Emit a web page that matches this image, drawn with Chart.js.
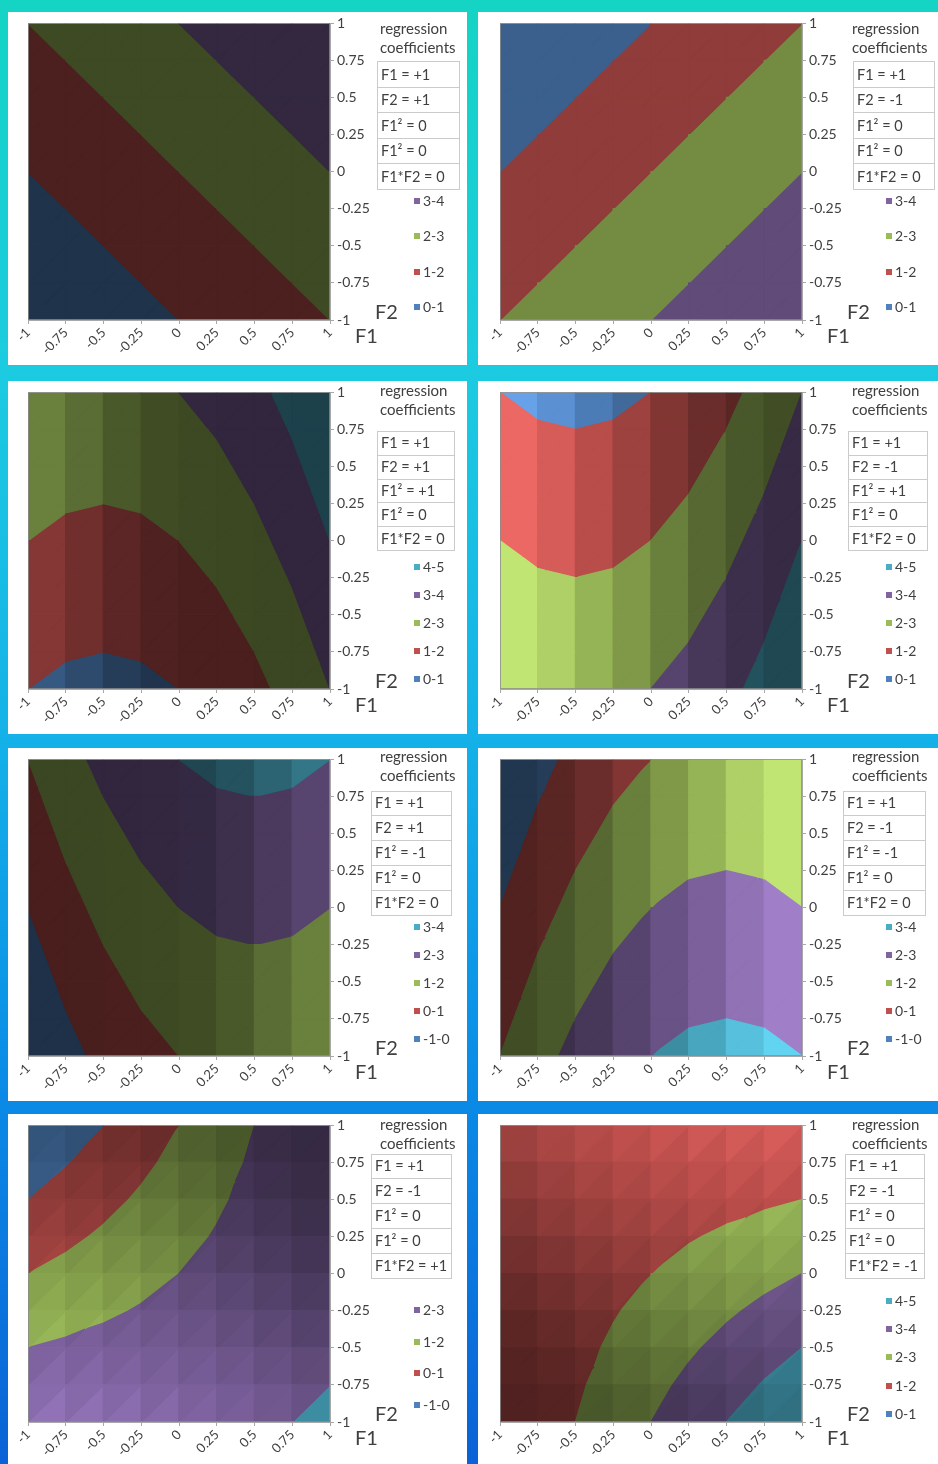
<!DOCTYPE html>
<html>
<head>
<meta charset="utf-8">
<script src="https://cdn.jsdelivr.net/npm/chart.js@4.4.0/dist/chart.umd.min.js"></script>
<style>
html, body { margin: 0; padding: 0; }
body {
	width: 938px; height: 1464px; overflow: hidden; position: relative;
	background: linear-gradient(180deg, #14d4c4 0%, #1ccbe0 25%, #14b2e8 50%, #0a8ae6 75%, #0a62d6 100%);
	font-family: Lato, "Open Sans", sans-serif; color: #404040;
}
.panel { position: absolute; background: #fff; height: 353px; overflow: hidden; }
.panel canvas { position: absolute; left: 0; top: 0; }
.ttl { position: absolute; font-size: 15px; line-height: 19px; white-space: nowrap; }
.coef { position: absolute; border-collapse: collapse; font-size: 14.5px; }
.coef td { border: 1px solid #cbcbcb; padding: 0 3px; white-space: nowrap; line-height: 16px; }
.axt { position: absolute; font-size: 20px; line-height: 20px; }
.leg { position: absolute; font-size: 14px; line-height: 16px; white-space: nowrap; }
.leg i { display: inline-block; width: 6px; height: 6px; margin-right: 3px; vertical-align: 2px; }
</style>
</head>
<body>
<script>
// grid positions (F1 across, F2 from top row down)
var F1_VALUES = [-1, -0.75, -0.5, -0.25, 0, 0.25, 0.5, 0.75, 1];
var F2_VALUES = [1, 0.75, 0.5, 0.25, 0, -0.25, -0.5, -0.75, -1];

// response values, one row per F2 value
var GRID_1 = [
	[2, 2.25, 2.5, 2.75, 3, 3.25, 3.5, 3.75, 4],
	[1.75, 2, 2.25, 2.5, 2.75, 3, 3.25, 3.5, 3.75],
	[1.5, 1.75, 2, 2.25, 2.5, 2.75, 3, 3.25, 3.5],
	[1.25, 1.5, 1.75, 2, 2.25, 2.5, 2.75, 3, 3.25],
	[1, 1.25, 1.5, 1.75, 2, 2.25, 2.5, 2.75, 3],
	[0.75, 1, 1.25, 1.5, 1.75, 2, 2.25, 2.5, 2.75],
	[0.5, 0.75, 1, 1.25, 1.5, 1.75, 2, 2.25, 2.5],
	[0.25, 0.5, 0.75, 1, 1.25, 1.5, 1.75, 2, 2.25],
	[0, 0.25, 0.5, 0.75, 1, 1.25, 1.5, 1.75, 2]
];
var GRID_2 = [
	[0, 0.25, 0.5, 0.75, 1, 1.25, 1.5, 1.75, 2],
	[0.25, 0.5, 0.75, 1, 1.25, 1.5, 1.75, 2, 2.25],
	[0.5, 0.75, 1, 1.25, 1.5, 1.75, 2, 2.25, 2.5],
	[0.75, 1, 1.25, 1.5, 1.75, 2, 2.25, 2.5, 2.75],
	[1, 1.25, 1.5, 1.75, 2, 2.25, 2.5, 2.75, 3],
	[1.25, 1.5, 1.75, 2, 2.25, 2.5, 2.75, 3, 3.25],
	[1.5, 1.75, 2, 2.25, 2.5, 2.75, 3, 3.25, 3.5],
	[1.75, 2, 2.25, 2.5, 2.75, 3, 3.25, 3.5, 3.75],
	[2, 2.25, 2.5, 2.75, 3, 3.25, 3.5, 3.75, 4]
];
var GRID_3 = [
	[3, 2.8125, 2.75, 2.8125, 3, 3.3125, 3.75, 4.3125, 5],
	[2.75, 2.5625, 2.5, 2.5625, 2.75, 3.0625, 3.5, 4.0625, 4.75],
	[2.5, 2.3125, 2.25, 2.3125, 2.5, 2.8125, 3.25, 3.8125, 4.5],
	[2.25, 2.0625, 2, 2.0625, 2.25, 2.5625, 3, 3.5625, 4.25],
	[2, 1.8125, 1.75, 1.8125, 2, 2.3125, 2.75, 3.3125, 4],
	[1.75, 1.5625, 1.5, 1.5625, 1.75, 2.0625, 2.5, 3.0625, 3.75],
	[1.5, 1.3125, 1.25, 1.3125, 1.5, 1.8125, 2.25, 2.8125, 3.5],
	[1.25, 1.0625, 1, 1.0625, 1.25, 1.5625, 2, 2.5625, 3.25],
	[1, 0.8125, 0.75, 0.8125, 1, 1.3125, 1.75, 2.3125, 3]
];
var GRID_4 = [
	[1, 0.8125, 0.75, 0.8125, 1, 1.3125, 1.75, 2.3125, 3],
	[1.25, 1.0625, 1, 1.0625, 1.25, 1.5625, 2, 2.5625, 3.25],
	[1.5, 1.3125, 1.25, 1.3125, 1.5, 1.8125, 2.25, 2.8125, 3.5],
	[1.75, 1.5625, 1.5, 1.5625, 1.75, 2.0625, 2.5, 3.0625, 3.75],
	[2, 1.8125, 1.75, 1.8125, 2, 2.3125, 2.75, 3.3125, 4],
	[2.25, 2.0625, 2, 2.0625, 2.25, 2.5625, 3, 3.5625, 4.25],
	[2.5, 2.3125, 2.25, 2.3125, 2.5, 2.8125, 3.25, 3.8125, 4.5],
	[2.75, 2.5625, 2.5, 2.5625, 2.75, 3.0625, 3.5, 4.0625, 4.75],
	[3, 2.8125, 2.75, 2.8125, 3, 3.3125, 3.75, 4.3125, 5]
];
var GRID_5 = [
	[1, 1.6875, 2.25, 2.6875, 3, 3.1875, 3.25, 3.1875, 3],
	[0.75, 1.4375, 2, 2.4375, 2.75, 2.9375, 3, 2.9375, 2.75],
	[0.5, 1.1875, 1.75, 2.1875, 2.5, 2.6875, 2.75, 2.6875, 2.5],
	[0.25, 0.9375, 1.5, 1.9375, 2.25, 2.4375, 2.5, 2.4375, 2.25],
	[0, 0.6875, 1.25, 1.6875, 2, 2.1875, 2.25, 2.1875, 2],
	[-0.25, 0.4375, 1, 1.4375, 1.75, 1.9375, 2, 1.9375, 1.75],
	[-0.5, 0.1875, 0.75, 1.1875, 1.5, 1.6875, 1.75, 1.6875, 1.5],
	[-0.75, -0.0625, 0.5, 0.9375, 1.25, 1.4375, 1.5, 1.4375, 1.25],
	[-1, -0.3125, 0.25, 0.6875, 1, 1.1875, 1.25, 1.1875, 1]
];
var GRID_6 = [
	[-1, -0.3125, 0.25, 0.6875, 1, 1.1875, 1.25, 1.1875, 1],
	[-0.75, -0.0625, 0.5, 0.9375, 1.25, 1.4375, 1.5, 1.4375, 1.25],
	[-0.5, 0.1875, 0.75, 1.1875, 1.5, 1.6875, 1.75, 1.6875, 1.5],
	[-0.25, 0.4375, 1, 1.4375, 1.75, 1.9375, 2, 1.9375, 1.75],
	[0, 0.6875, 1.25, 1.6875, 2, 2.1875, 2.25, 2.1875, 2],
	[0.25, 0.9375, 1.5, 1.9375, 2.25, 2.4375, 2.5, 2.4375, 2.25],
	[0.5, 1.1875, 1.75, 2.1875, 2.5, 2.6875, 2.75, 2.6875, 2.5],
	[0.75, 1.4375, 2, 2.4375, 2.75, 2.9375, 3, 2.9375, 2.75],
	[1, 1.6875, 2.25, 2.6875, 3, 3.1875, 3.25, 3.1875, 3]
];
var GRID_7 = [
	[-1, -0.5, 0, 0.5, 1, 1.5, 2, 2.5, 3],
	[-0.5, -0.0625, 0.375, 0.8125, 1.25, 1.6875, 2.125, 2.5625, 3],
	[0, 0.375, 0.75, 1.125, 1.5, 1.875, 2.25, 2.625, 3],
	[0.5, 0.8125, 1.125, 1.4375, 1.75, 2.0625, 2.375, 2.6875, 3],
	[1, 1.25, 1.5, 1.75, 2, 2.25, 2.5, 2.75, 3],
	[1.5, 1.6875, 1.875, 2.0625, 2.25, 2.4375, 2.625, 2.8125, 3],
	[2, 2.125, 2.25, 2.375, 2.5, 2.625, 2.75, 2.875, 3],
	[2.5, 2.5625, 2.625, 2.6875, 2.75, 2.8125, 2.875, 2.9375, 3],
	[3, 3, 3, 3, 3, 3, 3, 3, 3]
];
var GRID_8 = [
	[1, 1, 1, 1, 1, 1, 1, 1, 1],
	[1, 1.0625, 1.125, 1.1875, 1.25, 1.3125, 1.375, 1.4375, 1.5],
	[1, 1.125, 1.25, 1.375, 1.5, 1.625, 1.75, 1.875, 2],
	[1, 1.1875, 1.375, 1.5625, 1.75, 1.9375, 2.125, 2.3125, 2.5],
	[1, 1.25, 1.5, 1.75, 2, 2.25, 2.5, 2.75, 3],
	[1, 1.3125, 1.625, 1.9375, 2.25, 2.5625, 2.875, 3.1875, 3.5],
	[1, 1.375, 1.75, 2.125, 2.5, 2.875, 3.25, 3.625, 4],
	[1, 1.4375, 1.875, 2.3125, 2.75, 3.1875, 3.625, 4.0625, 4.5],
	[1, 1.5, 2, 2.5, 3, 3.5, 4, 4.5, 5]
];

// coefficient boxes, as printed
var COEF_1 = ['F1 = +1', 'F2 = +1', 'F1\u00b2 = 0', 'F1\u00b2 = 0', 'F1*F2 = 0'];
var COEF_2 = ['F1 = +1', 'F2 = -1', 'F1\u00b2 = 0', 'F1\u00b2 = 0', 'F1*F2 = 0'];
var COEF_3 = ['F1 = +1', 'F2 = +1', 'F1\u00b2 = +1', 'F1\u00b2 = 0', 'F1*F2 = 0'];
var COEF_4 = ['F1 = +1', 'F2 = -1', 'F1\u00b2 = +1', 'F1\u00b2 = 0', 'F1*F2 = 0'];
var COEF_5 = ['F1 = +1', 'F2 = +1', 'F1\u00b2 = -1', 'F1\u00b2 = 0', 'F1*F2 = 0'];
var COEF_6 = ['F1 = +1', 'F2 = -1', 'F1\u00b2 = -1', 'F1\u00b2 = 0', 'F1*F2 = 0'];
var COEF_7 = ['F1 = +1', 'F2 = -1', 'F1\u00b2 = 0', 'F1\u00b2 = 0', 'F1*F2 = +1'];
var COEF_8 = ['F1 = +1', 'F2 = -1', 'F1\u00b2 = 0', 'F1\u00b2 = 0', 'F1*F2 = -1'];

// lower edge of each colour band, and the legend entries (top to bottom)
var BANDS_A = [0, 1, 2, 3];
var BANDS_B = [0, 1, 2, 3, 4];
var BANDS_C = [-1, 0, 1, 2, 3];
var LEGEND_A = ['3-4', '2-3', '1-2', '0-1'];
var LEGEND_B = ['4-5', '3-4', '2-3', '1-2', '0-1'];
var LEGEND_C = ['3-4', '2-3', '1-2', '0-1', '-1-0'];
var LEGEND_D = ['2-3', '1-2', '0-1', '-1-0'];

var PANELS = [
	{ grid: GRID_1, coef: COEF_1, bands: BANDS_A, legend: LEGEND_A },
	{ grid: GRID_2, coef: COEF_2, bands: BANDS_A, legend: LEGEND_A },
	{ grid: GRID_3, coef: COEF_3, bands: BANDS_B, legend: LEGEND_B },
	{ grid: GRID_4, coef: COEF_4, bands: BANDS_B, legend: LEGEND_B },
	{ grid: GRID_5, coef: COEF_5, bands: BANDS_C, legend: LEGEND_C },
	{ grid: GRID_6, coef: COEF_6, bands: BANDS_C, legend: LEGEND_C },
	{ grid: GRID_7, coef: COEF_7, bands: BANDS_C, legend: LEGEND_D },
	{ grid: GRID_8, coef: COEF_8, bands: BANDS_B, legend: LEGEND_B }
];

var BAND_COLORS = ['#4F81BD', '#C0504D', '#9BBB59', '#8064A2', '#4BACC6'];

// layout
var ROW_TOP = [12, 381, 748, 1114];
var COL_LEFT = [8, 478];
var COL_WIDTH = [459, 460];
var PLOT_LEFT = [20, 22];
var PANEL_H = 353, PLOT_W = 302, PLOT_H = 300, PLOT_TOP = 8;
var CANVAS_W = 380, YAXIS_W = 50, XAXIS_H = 45;
// right hand notes, per row / per panel (panel-relative px)
var TITLE_Y = [16, 9, 8, 10];
var TABLE_Y = [62, 62, 55, 52];
var TABLE_STEP = [25.5, 23.8, 24.8, 24.8];
var TABLE_X = [369, 375, 369, 370, 363, 365, 363, 367];
var TABLE_W = [83, 82, 78, 80, 81, 83, 81, 80];
var LEGEND_Y = [189, 189, 186, 186, 179, 179, 196, 187];
var LEGEND_STEP = [35.3, 35.3, 28, 28, 28, 28, 31.7, 28.2];

// light for the flat-shaded facets (Excel's 3-D surface look)
var LIGHT = [0.56, 0.58, 0.44], ZSCALE = 0.5;

function hexToRgb(h) {
	return [parseInt(h.substr(1, 2), 16), parseInt(h.substr(3, 2), 16), parseInt(h.substr(5, 2), 16)];
}

function facetColor(hex, tri) {
	var a = tri[0], b = tri[1], c = tri[2];
	var u = [b.f1 - a.f1, b.f2 - a.f2, ZSCALE * (b.v - a.v)];
	var w = [c.f1 - a.f1, c.f2 - a.f2, ZSCALE * (c.v - a.v)];
	var n = [u[1] * w[2] - u[2] * w[1], u[2] * w[0] - u[0] * w[2], u[0] * w[1] - u[1] * w[0]];
	if (n[2] < 0) n = [-n[0], -n[1], -n[2]];
	var len = Math.sqrt(n[0] * n[0] + n[1] * n[1] + n[2] * n[2]);
	var t = (n[0] * LIGHT[0] + n[1] * LIGHT[1] + n[2] * LIGHT[2]) / len;
	var k = 0.37 + (t + Math.sqrt(t * t + 0.0144)) / 2;
	var rgb = hexToRgb(hex).map(function(q) {
		return Math.round(Math.min(255, q * k + Math.max(0, k - 1) * 60));
	});
	return 'rgb(' + rgb.join(',') + ')';
}

function clipPoly(poly, level, keepAbove) {
	var out = [];
	for (var i = 0; i < poly.length; i++) {
		var a = poly[i], b = poly[(i + 1) % poly.length];
		var ina = keepAbove ? a.v >= level : a.v <= level;
		var inb = keepAbove ? b.v >= level : b.v <= level;
		if (ina) out.push(a);
		if (ina !== inb) {
			var t = (level - a.v) / (b.v - a.v);
			out.push({ f1: a.f1 + t * (b.f1 - a.f1), f2: a.f2 + t * (b.f2 - a.f2), v: level });
		}
	}
	return out;
}

var surfacePlugin = {
	id: 'surface',
	beforeDatasetsDraw: function(chart, args, opts) {
		var ctx = chart.ctx, area = chart.chartArea;
		var xs = chart.scales.x, ys = chart.scales.y;
		var grid = opts.grid, bands = opts.bands;
		ctx.save();
		ctx.beginPath();
		ctx.rect(area.left, area.top, area.right - area.left, area.bottom - area.top);
		ctx.clip();
		ctx.lineJoin = 'round';
		ctx.lineWidth = 1.4;

		function drawTri(tri) {
			for (var k = 0; k < bands.length; k++) {
				var poly = clipPoly(tri, bands[k], true);
				if (k < bands.length - 1) poly = clipPoly(poly, bands[k + 1], false);
				if (poly.length < 3) continue;
				var px = poly.map(function(p) { return [xs.getPixelForValue(p.f1), ys.getPixelForValue(p.f2)]; });
				var area2 = 0;
				for (var i = 0; i < px.length; i++) {
					var j = (i + 1) % px.length;
					area2 += px[i][0] * px[j][1] - px[j][0] * px[i][1];
				}
				if (Math.abs(area2) < 1) continue;
				var col = facetColor(BAND_COLORS[k], tri);
				ctx.fillStyle = col;
				ctx.strokeStyle = col;
				ctx.beginPath();
				ctx.moveTo(px[0][0], px[0][1]);
				for (var m = 1; m < px.length; m++) ctx.lineTo(px[m][0], px[m][1]);
				ctx.closePath();
				ctx.fill();
				ctx.stroke();
			}
		}

		for (var r = 0; r < F2_VALUES.length - 1; r++) {
			for (var c = 0; c < F1_VALUES.length - 1; c++) {
				var p00 = { f1: F1_VALUES[c], f2: F2_VALUES[r + 1], v: grid[r + 1][c] };
				var p10 = { f1: F1_VALUES[c + 1], f2: F2_VALUES[r + 1], v: grid[r + 1][c + 1] };
				var p01 = { f1: F1_VALUES[c], f2: F2_VALUES[r], v: grid[r][c] };
				var p11 = { f1: F1_VALUES[c + 1], f2: F2_VALUES[r], v: grid[r][c + 1] };
				drawTri([p00, p10, p11]);
				drawTri([p00, p11, p01]);
			}
		}
		ctx.restore();
	},
	afterDatasetsDraw: function(chart) {
		var ctx = chart.ctx, a = chart.chartArea;
		ctx.save();
		ctx.strokeStyle = 'rgba(140,140,140,0.8)';
		ctx.lineWidth = 1;
		ctx.strokeRect(Math.round(a.left) + 0.5, Math.round(a.top) + 0.5, Math.round(a.right - a.left) - 1, Math.round(a.bottom - a.top) - 1);
		ctx.restore();
	}
};

function fmtTick(v) {
	return String(Math.round(v * 100) / 100);
}

PANELS.forEach(function(p, idx) {
	var col = idx % 2, row = Math.floor(idx / 2);
	var pl = PLOT_LEFT[col];

	var panel = document.createElement('div');
	panel.className = 'panel';
	panel.style.left = COL_LEFT[col] + 'px';
	panel.style.top = ROW_TOP[row] + 'px';
	panel.style.width = COL_WIDTH[col] + 'px';
	document.body.appendChild(panel);

	var cv = document.createElement('canvas');
	cv.width = CANVAS_W;
	cv.height = PANEL_H;
	cv.style.width = CANVAS_W + 'px';
	cv.style.height = PANEL_H + 'px';
	panel.appendChild(cv);

	var points = [];
	F2_VALUES.forEach(function(f2, r) {
		F1_VALUES.forEach(function(f1, c) { points.push({ x: f1, y: f2, v: p.grid[r][c] }); });
	});

	new Chart(cv, {
		type: 'scatter',
		data: { datasets: [{ data: points, pointRadius: 0, pointHoverRadius: 0 }] },
		options: {
			responsive: false,
			animation: false,
			events: [],
			layout: { padding: { left: pl, top: PLOT_TOP, right: CANVAS_W - pl - PLOT_W - YAXIS_W, bottom: 0 } },
			plugins: {
				legend: { display: false },
				tooltip: { enabled: false },
				surface: { grid: p.grid, bands: p.bands }
			},
			scales: {
				x: {
					type: 'linear', position: 'bottom', min: -1, max: 1,
					afterFit: function(s) { s.height = XAXIS_H; },
					grid: { drawOnChartArea: false, tickLength: 4, color: '#a8a8a8' },
					border: { color: '#a8a8a8' },
					ticks: {
						stepSize: 0.25, autoSkip: false, minRotation: 45, maxRotation: 45, padding: 1,
						color: '#404040', font: { family: 'Lato', size: 13 }, callback: fmtTick
					}
				},
				y: {
					type: 'linear', position: 'right', min: -1, max: 1,
					afterFit: function(s) { s.width = YAXIS_W; },
					grid: { drawOnChartArea: false, tickLength: 4, color: '#a8a8a8' },
					border: { color: '#a8a8a8' },
					ticks: {
						stepSize: 0.25, padding: 3,
						color: '#404040', font: { family: 'Lato', size: 14 }, callback: fmtTick
					}
				}
			}
		},
		plugins: [surfacePlugin]
	});

	// right hand notes
	var ttl = document.createElement('div');
	ttl.className = 'ttl';
	ttl.style.left = (pl + 352) + 'px';
	ttl.style.top = (TITLE_Y[row] - 9.5) + 'px';
	ttl.innerHTML = 'regression<br>coefficients';
	panel.appendChild(ttl);

	var step = TABLE_STEP[row];
	var tbl = document.createElement('table');
	tbl.className = 'coef';
	tbl.style.left = TABLE_X[idx] + 'px';
	tbl.style.top = (TABLE_Y[row] - step / 2) + 'px';
	tbl.style.width = TABLE_W[idx] + 'px';
	p.coef.forEach(function(txt) {
		var tr = document.createElement('tr');
		var td = document.createElement('td');
		td.style.height = (step - 1) + 'px';
		td.textContent = txt;
		tr.appendChild(td);
		tbl.appendChild(tr);
	});
	panel.appendChild(tbl);

	var n = p.legend.length;
	p.legend.forEach(function(lab, i) {
		var it = document.createElement('div');
		it.className = 'leg';
		it.style.left = (pl + 386) + 'px';
		it.style.top = (LEGEND_Y[idx] - 8 + i * LEGEND_STEP[idx]) + 'px';
		var sq = document.createElement('i');
		sq.style.background = BAND_COLORS[n - 1 - i];
		it.appendChild(sq);
		it.appendChild(document.createTextNode(lab));
		panel.appendChild(it);
	});

	var f2 = document.createElement('div');
	f2.className = 'axt';
	f2.style.left = (pl + 347) + 'px';
	f2.style.top = '289px';
	f2.textContent = 'F2';
	panel.appendChild(f2);

	var f1 = document.createElement('div');
	f1.className = 'axt';
	f1.style.left = (pl + 327) + 'px';
	f1.style.top = '313px';
	f1.textContent = 'F1';
	panel.appendChild(f1);
});
</script>
</body>
</html>
